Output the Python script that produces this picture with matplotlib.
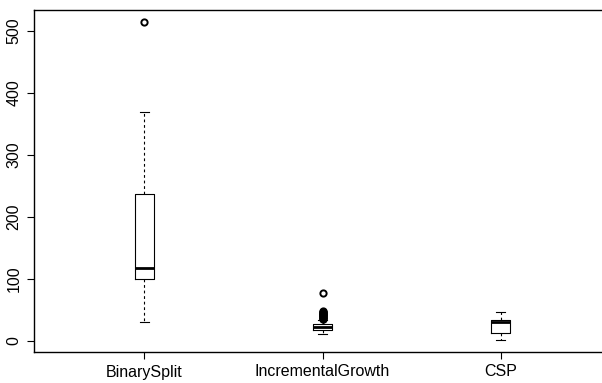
import matplotlib
matplotlib.use("Agg")
import matplotlib.pyplot as plt

categories = ["BinarySplit", "IncrementalGrowth", "CSP"]
whislo = [31, 11, 2]
q1 = [100, 18, 13]
med = [118, 22, 31]
q3 = [237, 27, 34]
whishi = [369, 33, 46]
fliers = [
    [514],
    [35, 36, 37, 38, 39, 40, 41, 42, 43, 44, 45, 46, 47, 48, 77],
    [],
]
yticks = [0, 100, 200, 300, 400, 500]

plt.rcParams['font.family'] = ['Liberation Sans', 'DejaVu Sans']

fig = plt.figure(figsize=(6.02, 3.83), dpi=100)
ax = fig.add_axes([34/602, 31/383, 577/602, 342/383])

stats = []
for i, c in enumerate(categories):
    stats.append(dict(label=c, whislo=whislo[i], q1=q1[i], med=med[i],
                      q3=q3[i], whishi=whishi[i], fliers=fliers[i]))

ax.bxp(stats, positions=[1, 2, 3], widths=0.107, capwidths=0.054,
       boxprops=dict(color='black', linewidth=0.8),
       medianprops=dict(color='black', linewidth=2.0),
       whiskerprops=dict(color='black', linewidth=0.8, linestyle=(0, (2.5, 2.5))),
       capprops=dict(color='black', linewidth=0.8),
       flierprops=dict(marker='o', markerfacecolor='none', markeredgecolor='black',
                       markersize=4.5, markeredgewidth=1.4))

ax.set_xlim(0.38, 3.62)
ax.set_ylim(-18, 534)
ax.set_yticks(yticks)
ax.set_yticklabels([str(v) for v in yticks], rotation=90, va='center', fontsize=11.5)
ax.set_xticks([1, 2, 3])
ax.set_xticklabels(categories, fontsize=11.5)
ax.tick_params(axis='both', direction='out', length=5, width=0.8, color='black')
ax.tick_params(axis='y', pad=4)
ax.tick_params(axis='x', pad=4)
for s in ax.spines.values():
    s.set_linewidth(1.0)
    s.set_color('black')

fig.savefig("out.png", dpi=100)
